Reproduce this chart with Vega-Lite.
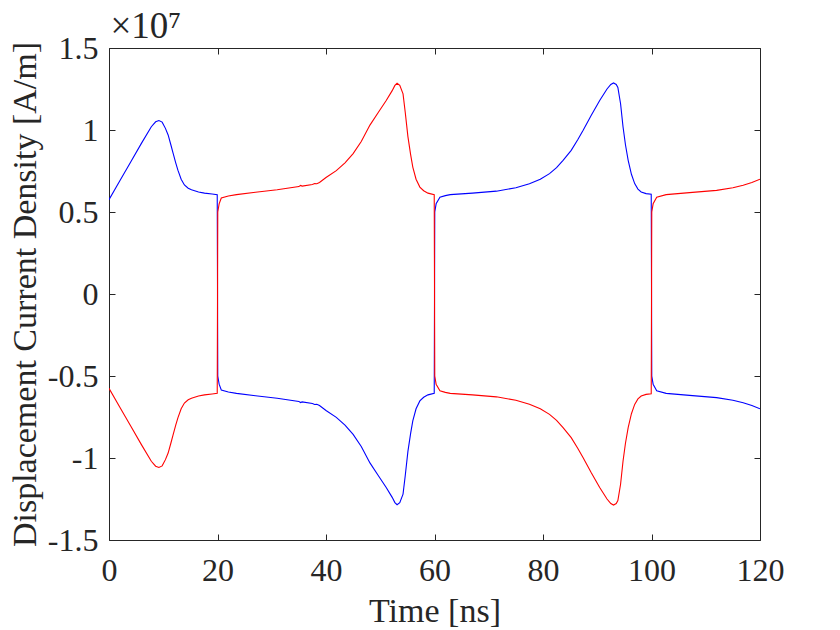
{
  "$schema": "https://vega.github.io/schema/vega-lite/v6.json",
  "width": 651,
  "height": 492,
  "autosize": {"type": "none"},
  "padding": {"left": 109, "top": 48, "right": 80, "bottom": 90},
  "background": "white",
  "config": {
    "font": "Liberation Serif",
    "view": {"stroke": null},
    "axis": {
      "grid": false,
      "domainColor": "#262626",
      "tickColor": "#262626",
      "labelColor": "#262626",
      "titleColor": "#262626",
      "labelFont": "Liberation Serif",
      "titleFont": "Liberation Serif",
      "labelFontSize": 32,
      "titleFontSize": 34,
      "titleFontWeight": "normal",
      "tickSize": -6,
      "domainWidth": 1,
      "tickWidth": 1
    },
    "axisTop": {"titleFontSize": 37}
  },
  "data": {
    "values": [
      {"trace": "blue", "t": 0, "j": 0.575}, {"trace": "blue", "t": 2, "j": 0.69}, {"trace": "blue", "t": 4, "j": 0.805},
      {"trace": "blue", "t": 6, "j": 0.92}, {"trace": "blue", "t": 7.8, "j": 1.02}, {"trace": "blue", "t": 8.6, "j": 1.05},
      {"trace": "blue", "t": 9.2, "j": 1.058}, {"trace": "blue", "t": 9.8, "j": 1.048}, {"trace": "blue", "t": 10.4, "j": 1.01},
      {"trace": "blue", "t": 10.9, "j": 0.97}, {"trace": "blue", "t": 11.4, "j": 0.91}, {"trace": "blue", "t": 11.8, "j": 0.86},
      {"trace": "blue", "t": 12.3, "j": 0.8}, {"trace": "blue", "t": 12.7, "j": 0.755}, {"trace": "blue", "t": 13.3, "j": 0.7},
      {"trace": "blue", "t": 13.9, "j": 0.665}, {"trace": "blue", "t": 14.6, "j": 0.645}, {"trace": "blue", "t": 15.2, "j": 0.635},
      {"trace": "blue", "t": 16.5, "j": 0.622}, {"trace": "blue", "t": 17.6, "j": 0.615}, {"trace": "blue", "t": 19.0, "j": 0.61},
      {"trace": "blue", "t": 19.95, "j": 0.606}, {"trace": "blue", "t": 20.05, "j": -0.5}, {"trace": "blue", "t": 20.3, "j": -0.55},
      {"trace": "blue", "t": 20.7, "j": -0.585}, {"trace": "blue", "t": 22, "j": -0.598}, {"trace": "blue", "t": 23.5, "j": -0.606},
      {"trace": "blue", "t": 27, "j": -0.62}, {"trace": "blue", "t": 31, "j": -0.636}, {"trace": "blue", "t": 35, "j": -0.655},
      {"trace": "blue", "t": 35.3, "j": -0.662}, {"trace": "blue", "t": 35.6, "j": -0.658}, {"trace": "blue", "t": 37.5, "j": -0.668},
      {"trace": "blue", "t": 37.9, "j": -0.674}, {"trace": "blue", "t": 38.3, "j": -0.672}, {"trace": "blue", "t": 38.8, "j": -0.68},
      {"trace": "blue", "t": 40, "j": -0.71}, {"trace": "blue", "t": 41.9, "j": -0.752}, {"trace": "blue", "t": 43.5, "j": -0.8},
      {"trace": "blue", "t": 45, "j": -0.856}, {"trace": "blue", "t": 46.5, "j": -0.93}, {"trace": "blue", "t": 48.1, "j": -1.03},
      {"trace": "blue", "t": 49.6, "j": -1.105}, {"trace": "blue", "t": 51.1, "j": -1.18}, {"trace": "blue", "t": 52.2, "j": -1.24},
      {"trace": "blue", "t": 52.7, "j": -1.272}, {"trace": "blue", "t": 53.1, "j": -1.285}, {"trace": "blue", "t": 53.6, "j": -1.272},
      {"trace": "blue", "t": 54.2, "j": -1.22}, {"trace": "blue", "t": 54.6, "j": -1.11}, {"trace": "blue", "t": 55.1, "j": -0.96},
      {"trace": "blue", "t": 55.6, "j": -0.85}, {"trace": "blue", "t": 56.0, "j": -0.774}, {"trace": "blue", "t": 56.6, "j": -0.7},
      {"trace": "blue", "t": 57.3, "j": -0.652}, {"trace": "blue", "t": 58.0, "j": -0.63}, {"trace": "blue", "t": 58.8, "j": -0.615},
      {"trace": "blue", "t": 59.95, "j": -0.606}, {"trace": "blue", "t": 60.05, "j": 0.5}, {"trace": "blue", "t": 60.3, "j": 0.55},
      {"trace": "blue", "t": 61.0, "j": 0.59}, {"trace": "blue", "t": 62.0, "j": 0.6}, {"trace": "blue", "t": 62.9, "j": 0.606},
      {"trace": "blue", "t": 67, "j": 0.615}, {"trace": "blue", "t": 71.4, "j": 0.627}, {"trace": "blue", "t": 75, "j": 0.648},
      {"trace": "blue", "t": 77.5, "j": 0.672}, {"trace": "blue", "t": 79.5, "j": 0.7}, {"trace": "blue", "t": 81.2, "j": 0.734},
      {"trace": "blue", "t": 82.5, "j": 0.77}, {"trace": "blue", "t": 83.7, "j": 0.815}, {"trace": "blue", "t": 85.2, "j": 0.876},
      {"trace": "blue", "t": 86.4, "j": 0.94}, {"trace": "blue", "t": 87.4, "j": 0.998}, {"trace": "blue", "t": 88.9, "j": 1.09},
      {"trace": "blue", "t": 90.45, "j": 1.18}, {"trace": "blue", "t": 91.8, "j": 1.25}, {"trace": "blue", "t": 92.5, "j": 1.278},
      {"trace": "blue", "t": 93.0, "j": 1.287}, {"trace": "blue", "t": 93.5, "j": 1.278}, {"trace": "blue", "t": 93.8, "j": 1.26},
      {"trace": "blue", "t": 94.3, "j": 1.16}, {"trace": "blue", "t": 94.75, "j": 1.02}, {"trace": "blue", "t": 95.2, "j": 0.91},
      {"trace": "blue", "t": 95.7, "j": 0.815}, {"trace": "blue", "t": 96.3, "j": 0.73}, {"trace": "blue", "t": 96.9, "j": 0.673},
      {"trace": "blue", "t": 97.5, "j": 0.64}, {"trace": "blue", "t": 98.1, "j": 0.622}, {"trace": "blue", "t": 99.0, "j": 0.612},
      {"trace": "blue", "t": 99.95, "j": 0.608}, {"trace": "blue", "t": 100.05, "j": -0.5}, {"trace": "blue", "t": 100.3, "j": -0.55},
      {"trace": "blue", "t": 100.96, "j": -0.59}, {"trace": "blue", "t": 102.7, "j": -0.606}, {"trace": "blue", "t": 107, "j": -0.618},
      {"trace": "blue", "t": 112, "j": -0.632}, {"trace": "blue", "t": 115, "j": -0.648}, {"trace": "blue", "t": 116.9, "j": -0.663},
      {"trace": "blue", "t": 118.5, "j": -0.68}, {"trace": "blue", "t": 120, "j": -0.7},

      {"trace": "red", "t": 0, "j": -0.575}, {"trace": "red", "t": 2, "j": -0.69}, {"trace": "red", "t": 4, "j": -0.805},
      {"trace": "red", "t": 6, "j": -0.92}, {"trace": "red", "t": 7.8, "j": -1.02}, {"trace": "red", "t": 8.6, "j": -1.05},
      {"trace": "red", "t": 9.2, "j": -1.058}, {"trace": "red", "t": 9.8, "j": -1.048}, {"trace": "red", "t": 10.4, "j": -1.01},
      {"trace": "red", "t": 10.9, "j": -0.97}, {"trace": "red", "t": 11.4, "j": -0.91}, {"trace": "red", "t": 11.8, "j": -0.86},
      {"trace": "red", "t": 12.3, "j": -0.8}, {"trace": "red", "t": 12.7, "j": -0.755}, {"trace": "red", "t": 13.3, "j": -0.7},
      {"trace": "red", "t": 13.9, "j": -0.665}, {"trace": "red", "t": 14.6, "j": -0.645}, {"trace": "red", "t": 15.2, "j": -0.635},
      {"trace": "red", "t": 16.5, "j": -0.622}, {"trace": "red", "t": 17.6, "j": -0.615}, {"trace": "red", "t": 19.0, "j": -0.61},
      {"trace": "red", "t": 19.95, "j": -0.606}, {"trace": "red", "t": 20.05, "j": 0.5}, {"trace": "red", "t": 20.3, "j": 0.55},
      {"trace": "red", "t": 20.7, "j": 0.585}, {"trace": "red", "t": 22, "j": 0.598}, {"trace": "red", "t": 23.5, "j": 0.606},
      {"trace": "red", "t": 27, "j": 0.62}, {"trace": "red", "t": 31, "j": 0.636}, {"trace": "red", "t": 35, "j": 0.655},
      {"trace": "red", "t": 35.3, "j": 0.662}, {"trace": "red", "t": 35.6, "j": 0.658}, {"trace": "red", "t": 37.5, "j": 0.668},
      {"trace": "red", "t": 37.9, "j": 0.674}, {"trace": "red", "t": 38.3, "j": 0.672}, {"trace": "red", "t": 38.8, "j": 0.68},
      {"trace": "red", "t": 40, "j": 0.71}, {"trace": "red", "t": 41.9, "j": 0.752}, {"trace": "red", "t": 43.5, "j": 0.8},
      {"trace": "red", "t": 45, "j": 0.856}, {"trace": "red", "t": 46.5, "j": 0.93}, {"trace": "red", "t": 48.1, "j": 1.03},
      {"trace": "red", "t": 49.6, "j": 1.105}, {"trace": "red", "t": 51.1, "j": 1.18}, {"trace": "red", "t": 52.2, "j": 1.24},
      {"trace": "red", "t": 52.7, "j": 1.272}, {"trace": "red", "t": 53.1, "j": 1.285}, {"trace": "red", "t": 53.6, "j": 1.272},
      {"trace": "red", "t": 54.2, "j": 1.22}, {"trace": "red", "t": 54.6, "j": 1.11}, {"trace": "red", "t": 55.1, "j": 0.96},
      {"trace": "red", "t": 55.6, "j": 0.85}, {"trace": "red", "t": 56.0, "j": 0.774}, {"trace": "red", "t": 56.6, "j": 0.7},
      {"trace": "red", "t": 57.3, "j": 0.652}, {"trace": "red", "t": 58.0, "j": 0.63}, {"trace": "red", "t": 58.8, "j": 0.615},
      {"trace": "red", "t": 59.95, "j": 0.606}, {"trace": "red", "t": 60.05, "j": -0.5}, {"trace": "red", "t": 60.3, "j": -0.55},
      {"trace": "red", "t": 61.0, "j": -0.59}, {"trace": "red", "t": 62.0, "j": -0.6}, {"trace": "red", "t": 62.9, "j": -0.606},
      {"trace": "red", "t": 67, "j": -0.615}, {"trace": "red", "t": 71.4, "j": -0.627}, {"trace": "red", "t": 75, "j": -0.648},
      {"trace": "red", "t": 77.5, "j": -0.672}, {"trace": "red", "t": 79.5, "j": -0.7}, {"trace": "red", "t": 81.2, "j": -0.734},
      {"trace": "red", "t": 82.5, "j": -0.77}, {"trace": "red", "t": 83.7, "j": -0.815}, {"trace": "red", "t": 85.2, "j": -0.876},
      {"trace": "red", "t": 86.4, "j": -0.94}, {"trace": "red", "t": 87.4, "j": -0.998}, {"trace": "red", "t": 88.9, "j": -1.09},
      {"trace": "red", "t": 90.45, "j": -1.18}, {"trace": "red", "t": 91.8, "j": -1.25}, {"trace": "red", "t": 92.5, "j": -1.278},
      {"trace": "red", "t": 93.0, "j": -1.287}, {"trace": "red", "t": 93.5, "j": -1.278}, {"trace": "red", "t": 93.8, "j": -1.26},
      {"trace": "red", "t": 94.3, "j": -1.16}, {"trace": "red", "t": 94.75, "j": -1.02}, {"trace": "red", "t": 95.2, "j": -0.91},
      {"trace": "red", "t": 95.7, "j": -0.815}, {"trace": "red", "t": 96.3, "j": -0.73}, {"trace": "red", "t": 96.9, "j": -0.673},
      {"trace": "red", "t": 97.5, "j": -0.64}, {"trace": "red", "t": 98.1, "j": -0.622}, {"trace": "red", "t": 99.0, "j": -0.612},
      {"trace": "red", "t": 99.95, "j": -0.608}, {"trace": "red", "t": 100.05, "j": 0.5}, {"trace": "red", "t": 100.3, "j": 0.55},
      {"trace": "red", "t": 100.96, "j": 0.59}, {"trace": "red", "t": 102.7, "j": 0.606}, {"trace": "red", "t": 107, "j": 0.618},
      {"trace": "red", "t": 112, "j": 0.632}, {"trace": "red", "t": 115, "j": 0.648}, {"trace": "red", "t": 116.9, "j": 0.663},
      {"trace": "red", "t": 118.5, "j": 0.68}, {"trace": "red", "t": 120, "j": 0.7}
    ]
  },
  "layer": [
    {
      "transform": [{"filter": "datum.trace == 'blue'"}],
      "mark": {"type": "line", "strokeWidth": 1.1, "clip": true},
      "encoding": {
        "x": {
          "field": "t", "type": "quantitative",
          "scale": {"domain": [0, 120], "nice": false, "zero": false},
          "axis": {
            "orient": "bottom", "values": [0, 20, 40, 60, 80, 100, 120],
            "labelPadding": 46, "labelBaseline": "alphabetic", "labelFlush": false,
            "title": "Time [ns]", "titleBaseline": "alphabetic", "titleY": 81
          }
        },
        "y": {
          "field": "j", "type": "quantitative",
          "scale": {"domain": [-1.5, 1.5], "nice": false},
          "axis": {
            "orient": "left", "values": [-1.5, -1, -0.5, 0, 0.5, 1, 1.5],
            "labelExpr": "'' + datum.value",
            "labelPadding": 17, "labelBaseline": "middle", "labelFlush": false,
            "title": "Displacement Current Density [A/m]",
            "titleBaseline": "alphabetic", "titleX": -74, "titleY": 246
          }
        },
        "color": {
          "field": "trace", "type": "nominal",
          "scale": {"domain": ["blue", "red"], "range": ["#0000ff", "#ff0000"]},
          "legend": null
        }
      }
    },
    {
      "transform": [{"filter": "datum.trace == 'red'"}],
      "mark": {"type": "line", "strokeWidth": 1.1, "clip": true},
      "encoding": {
        "x": {
          "field": "t", "type": "quantitative",
          "scale": {"domain": [0, 120], "nice": false, "zero": false},
          "axis": {
            "orient": "top", "values": [0, 20, 40, 60, 80, 100, 120], "labels": false,
            "title": "×10⁷", "titleFontSize": 37, "titleAngle": 0,
            "titleAnchor": "start", "titleAlign": "left", "titleBaseline": "alphabetic",
            "titleX": 1, "titleY": -11
          }
        },
        "y": {
          "field": "j", "type": "quantitative",
          "scale": {"domain": [-1.5, 1.5], "nice": false},
          "axis": {
            "orient": "right", "values": [-1.5, -1, -0.5, 0, 0.5, 1, 1.5],
            "labels": false, "title": null
          }
        },
        "color": {
          "field": "trace", "type": "nominal",
          "scale": {"domain": ["blue", "red"], "range": ["#0000ff", "#ff0000"]},
          "legend": null
        }
      }
    }
  ],
  "resolve": {"axis": {"x": "independent", "y": "independent"}}
}
